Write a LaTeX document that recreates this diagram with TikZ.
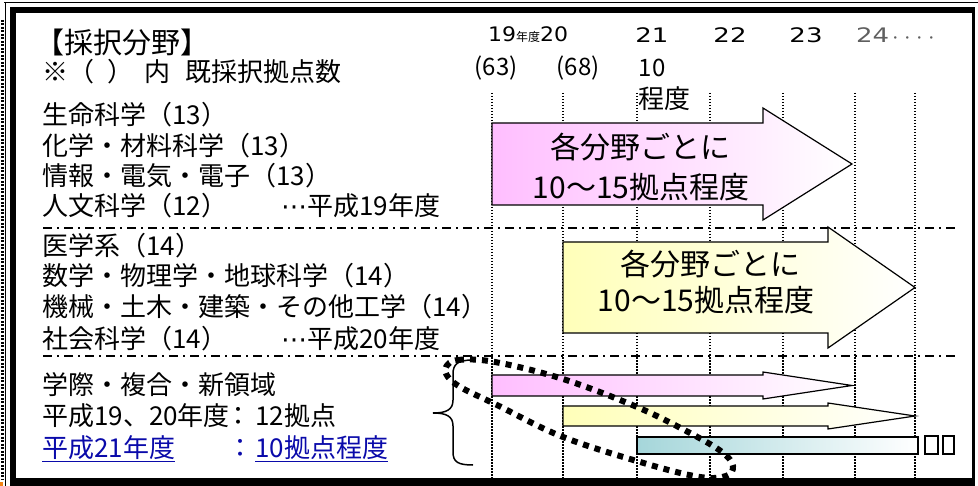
\documentclass[tikz,border=0pt]{standalone}
\usepackage{fontspec}
\usepackage{graphicx}
\setmainfont{Noto Sans CJK JP}
\newfontfamily\hdrfont{DejaVu Sans}
\definecolor{pinkL}{RGB}{255,190,255}
\definecolor{yellowL}{RGB}{255,255,185}
\definecolor{blueL}{RGB}{165,214,218}
\definecolor{linkblue}{RGB}{10,10,170}
\definecolor{greyT}{RGB}{95,95,95}
\definecolor{edgeor}{RGB}{240,130,20}
\newcommand{\midellip}{{\hdrfont ⋯}}
\tikzset{
  lbl/.style={anchor=west, inner sep=0pt, text height=21pt, text depth=3pt, font=\fontsize{26}{30}\selectfont},
  arrtxt/.style={inner sep=0pt, font=\fontsize{30}{34}\selectfont},
  yr/.style={inner sep=0pt, font=\hdrfont\fontsize{20}{24}\selectfont},
  sub/.style={inner sep=0pt, font=\fontsize{24}{28}\selectfont},
  vgrid/.style={line width=1.2pt, dash pattern=on 1.5pt off 1.5pt},
  hsep/.style={line width=1.3pt, dash pattern=on 9pt off 5pt on 2pt off 5pt},
  arrowshape/.style={draw=black, line width=1.2pt},
  oval/.style={line width=6pt, dash pattern=on 6pt off 6pt},
  tofu/.style={draw=black, line width=1.6pt},
}
\begin{document}
\begin{tikzpicture}[x=1pt,y=-1pt]
\useasboundingbox (0,0) rectangle (978,486);
% frame
\fill[white] (0,0) rectangle (978,486);
\fill[black] (10,7) rectangle (975,486);
\fill[white] (16,13) rectangle (972,478);
\draw[line width=1pt] (4,2.5) -- (978,2.5);
\draw[line width=1pt] (5.5,2.5) -- (5.5,486);
\draw[line width=3pt, dash pattern=on 2pt off 1.5pt] (2,20) -- (2,480);
\fill[edgeor] (0,482) rectangle (3,486);

% vertical dotted grid
\foreach \gx in {492,563,637,710,783,855,915}
  \draw[vgrid] (\gx,93) -- (\gx,478);

% horizontal separators
\draw[hsep] (43,228) -- (955,228);
\draw[hsep] (43,356) -- (955,356);

% header years
\node[yr, anchor=west] (y1920) at (488,35)
  {\scalebox{1.1}[1]{19}{\rmfamily\fontsize{12}{14}\selectfont 年度}\scalebox{1.1}[1]{20}};
\node[yr] (y21) at (652,35) {\scalebox{1.3}[1]{21}};
\node[yr] (y22) at (730,35) {\scalebox{1.3}[1]{22}};
\node[yr] (y23) at (806,35) {\scalebox{1.3}[1]{23}};
\node[yr, text=greyT, anchor=west] (y24) at (856,35)
  {\scalebox{1.3}[1]{24}{\rmfamily\fontsize{12}{14}\selectfont ・・・・}};
\node[sub] (c63) at (496,68) {(63)};
\node[sub] (c68) at (578,68) {(68)};
\node[sub] (c10) at (652,68) {10};
\node[lbl] (cteido) at (638,100) {程度};

% left texts
\node[lbl, font=\fontsize{29}{32}\selectfont, text height=24pt, text depth=3pt] (title) at (35,43) {【採択分野】};
\node[lbl] (note) at (42,73) {※（\hspace{0.5em}）\hspace{0.45em}内\hspace{0.55em}既採択拠点数};
\node[lbl] (f1) at (42,116) {生命科学（13）};
\node[lbl] (f2) at (42,147) {化学・材料科学（13）};
\node[lbl] (f3) at (42,177) {情報・電気・電子（13）};
\node[lbl] (f4) at (42,207) {人文科学（12）};
\node[lbl] (f4y) at (281,207) {\midellip 平成19年度};
\node[lbl] (g1) at (42,247) {医学系（14）};
\node[lbl] (g2) at (42,277) {数学・物理学・地球科学（14）};
\node[lbl] (g3) at (42,308) {機械・土木・建築・その他工学（14）};
\node[lbl] (g4) at (42,340) {社会科学（14）};
\node[lbl] (g4y) at (281,340) {\midellip 平成20年度};
\node[lbl] (h1) at (42,386) {学際・複合・新領域};
\node[lbl] (h2) at (42,417) {平成19、20年度};
\node[lbl, anchor=center] (h2c) at (238,417) {：};
\node[lbl] (h2n) at (255,417) {12拠点};
\node[lbl, text=linkblue] (h3) at (42,448) {平成21年度};
\node[lbl, anchor=center, text=linkblue] (h3c) at (240,448) {：};
\node[lbl, text=linkblue] (h3n) at (255,448) {10拠点程度};
\draw[linkblue, line width=1.3pt] ([yshift=-1pt]h3.south west) -- ([yshift=-1pt]h3.south east);
\draw[linkblue, line width=1.3pt] ([yshift=-1pt]h3n.south west) -- ([yshift=-1pt]h3n.south east);

% big arrows
\shadedraw[arrowshape, left color=pinkL, right color=white]
  (492,123) -- (763,123) -- (763,108) -- (852,164) -- (763,220) -- (763,205) -- (492,205) -- cycle;
\shadedraw[arrowshape, left color=yellowL, right color=white]
  (563,242) -- (828,242) -- (828,227) -- (915,287.5) -- (828,348) -- (828,333) -- (563,333) -- cycle;
\node[arrtxt] (a1l1) at (640,147) {各分野ごとに};
\node[arrtxt] (a1l2) at (641,187) {10〜15拠点程度};
\node[arrtxt] (a2l1) at (710,264) {各分野ごとに};
\node[arrtxt] (a2l2) at (706,300) {10〜15拠点程度};

% small arrows
\shadedraw[arrowshape, left color=pinkL, right color=white]
  (492,375) -- (763,375) -- (763,372) -- (852,385.5) -- (763,399) -- (763,396) -- (492,396) -- cycle;
\shadedraw[arrowshape, left color=yellowL, right color=white]
  (563,406) -- (828,406) -- (828,403) -- (915,416) -- (828,429) -- (828,426) -- (563,426) -- cycle;
\shadedraw[arrowshape, left color=blueL, right color=white] (637,437) rectangle (918,454);
\draw[tofu] (925,436) rectangle (938,454);
\draw[tofu] (943,436) rectangle (954,454);

% brace
\draw[line width=1.5pt] (473,360) .. controls (458,360) and (453,364) .. (453,374)
  -- (453,400) .. controls (453,410) and (446,413) .. (433,413)
  .. controls (446,413) and (453,416) .. (453,426)
  -- (453,452) .. controls (453,462) and (458,465) .. (473,465);

% dotted oval
\draw[oval] plot[smooth cycle, tension=0.6] coordinates {
  (446,367) (458,360) (495,362) (563,379) (637,407) (690,433) (722,452)
  (733,466) (726,476) (700,477) (647,464) (563,437) (497,405) (462,388) (448,377)};
\end{tikzpicture}
\end{document}
